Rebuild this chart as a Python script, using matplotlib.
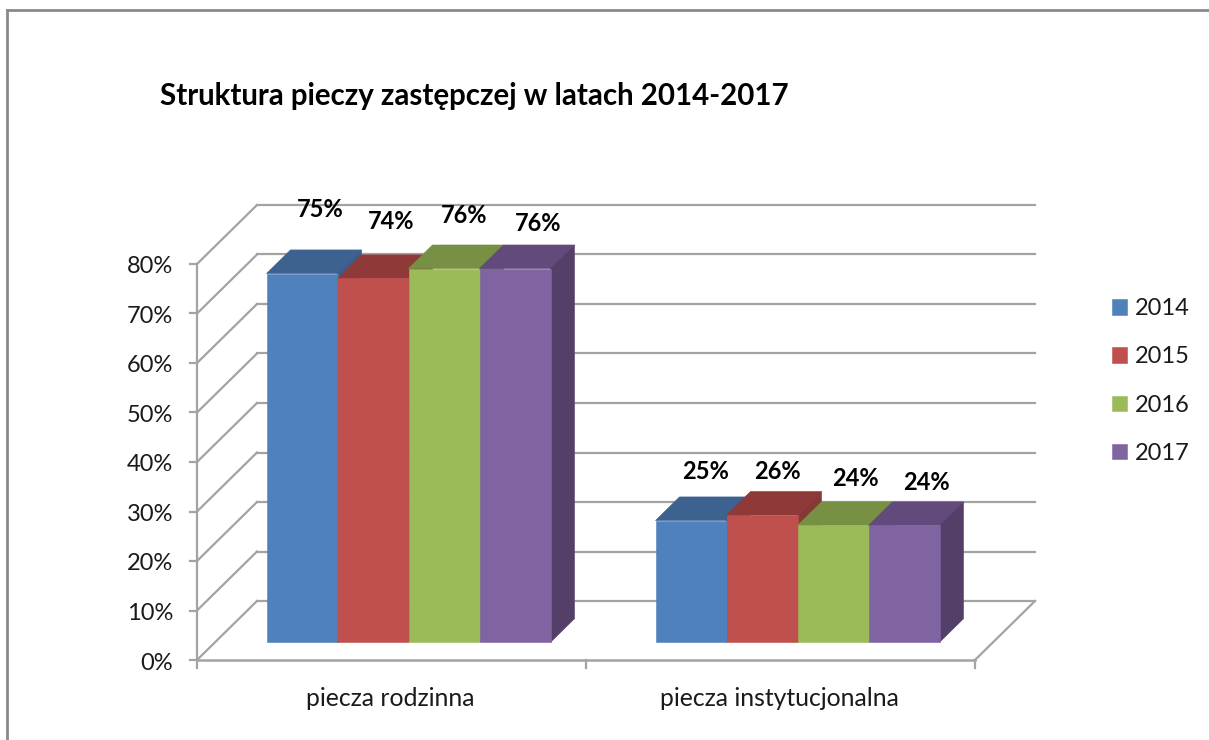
#!/usr/bin/env python3
"""Struktura pieczy zastepczej - fake 3D clustered columns"""
import matplotlib
matplotlib.use('Agg')
import matplotlib.pyplot as plt

plt.rcParams['font.family'] = ['Lato', 'DejaVu Sans']

# Data
categories = ['piecza rodzinna', 'piecza instytucjonalna']
years = ['2014', '2015', '2016', '2017']
bar_values = [
    [74.5, 73.5, 75.5, 75.5],
    [24.6, 25.7, 23.6, 23.6],
]
bar_labels = [
    ['75%', '74%', '76%', '76%'],
    ['25%', '26%', '24%', '24%'],
]
y_ticks = [0, 10, 20, 30, 40, 50, 60, 70, 80]

# Colours per series
front_colors = ['#4F81BD', '#C0504D', '#9BBB59', '#8064A2']
top_colors = ['#3D6290', '#8F3A38', '#779043', '#624B7C']
side_colors = ['#3A5D88', '#873735', '#6F863E', '#543F68']
grid_color = '#A3A3A3'

# Scales (pixels per data unit)
PX_SLOT = 389.0
PX_PCT = 4.95
DEPTH_X = 60.0
DEPTH_Y = 59.0
X0 = 197.0
Y0 = 660.0
BAR_W = 71.0 / PX_SLOT
D_FRONT = 0.3
D_BACK = 0.7


def project(x, y, d):
    """Shift a point (slot, percent) back by depth d (0..1)"""
    return x + d * DEPTH_X / PX_SLOT, y + d * DEPTH_Y / PX_PCT


def draw_wall(ax):
    for t in y_ticks:
        bx, by = project(0, t, 1)
        ax.plot([0, bx], [t, by], color=grid_color, lw=1.6, zorder=1)
        ax.plot([-7 / PX_SLOT, 0], [t, t], color=grid_color, lw=1.6, zorder=1)
        ex, _ = project(2, t, 1)
        ax.plot([bx, ex], [by, by], color=grid_color, lw=1.6, zorder=1)
        ax.text(-24 / PX_SLOT, t - 3 / PX_PCT, f'{t}%', ha='right', va='center', fontsize=17,
                color='#1a1a1a')
    ax.plot([0, 0], [0, 80], color=grid_color, lw=1.6, zorder=1)
    ax.plot([0, 2], [0, 0], color=grid_color, lw=1.8, zorder=1)
    fx, fy = project(2, 0, 1)
    ax.plot([2, fx], [0, fy], color=grid_color, lw=1.6, zorder=1)
    for s in range(3):
        ax.plot([s, s], [0, -8 / PX_PCT], color=grid_color, lw=1.6, zorder=1)


def draw_bars(ax):
    label_dx = [[18, 18, 20, 23], [15, 15, 22, 22]]
    label_dy = [[64, 57, 53, 45], [49, 44, 47, 43]]
    for c, values in enumerate(bar_values):
        for j, v in enumerate(values):
            x = c + 0.5 + (j - 2) * BAR_W - 1 / PX_SLOT
            x1 = x + BAR_W
            z = 3 + j
            fx0, fy0 = project(x, 0, D_FRONT)
            fx1, fy1 = project(x1, v, D_FRONT)
            bx0, by0 = project(x, v, D_BACK)
            bx1, by1 = project(x1, v, D_BACK)
            _, bb = project(x1, 0, D_BACK)
            ax.fill([fx0, fx1, bx1, bx0], [fy1, fy1, by1, by1],
                    color=top_colors[j], lw=0.4, zorder=z)
            ax.fill([fx1, bx1, bx1, fx1], [fy1, by1, bb, fy0],
                    color=side_colors[j], lw=0.4, zorder=z)
            ax.bar(fx0, v, width=BAR_W, bottom=fy0, align='edge',
                   color=front_colors[j], edgecolor=front_colors[j], lw=0.4, zorder=z,
                   label=years[j] if c == 0 else None)
            ax.text((fx0 + fx1) / 2 + label_dx[c][j] / PX_SLOT,
                    fy1 + label_dy[c][j] / PX_PCT, bar_labels[c][j],
                    ha='center', va='center', fontsize=17, fontweight='bold',
                    color='black', zorder=10)


def main():
    fig = plt.figure(figsize=(12.09, 7.4), dpi=100, facecolor='white')
    ax = fig.add_axes([0, 0, 1, 1])
    ax.set_xlim(-X0 / PX_SLOT, (1209 - X0) / PX_SLOT)
    ax.set_ylim((Y0 - 740) / PX_PCT, Y0 / PX_PCT)
    ax.axis('off')

    draw_wall(ax)
    draw_bars(ax)

    for c, name in enumerate(categories):
        ax.text(c + 0.5 - 1 / PX_SLOT, -38 / PX_PCT, name, ha='center', va='center',
                fontsize=17.8, color='#1a1a1a')

    ax.text(-37 / PX_SLOT, (Y0 - 96) / PX_PCT, 'Struktura pieczy zastępczej w latach 2014-2017',
            ha='left', va='center', fontsize=21.25, fontweight='bold', color='black')

    ax.legend(loc='center left', bbox_to_anchor=(1112 / 1209, 1 - 381 / 740), frameon=False,
              fontsize=17, handlelength=0.64, handleheight=0.64, handletextpad=0.34,
              labelspacing=1.155, labelcolor='#1a1a1a', borderpad=0, borderaxespad=0)

    # Outer chart frame
    ax.plot([(7 - X0) / PX_SLOT] * 2, [(Y0 - 740) / PX_PCT, (Y0 - 10) / PX_PCT],
            color='#8A8A8A', lw=2)
    ax.plot([(7 - X0) / PX_SLOT, (1209 - X0) / PX_SLOT], [(Y0 - 10) / PX_PCT] * 2,
            color='#8A8A8A', lw=2)

    fig.savefig('out.png', dpi=100, facecolor='white')
    plt.close(fig)


if __name__ == "__main__":
    main()
